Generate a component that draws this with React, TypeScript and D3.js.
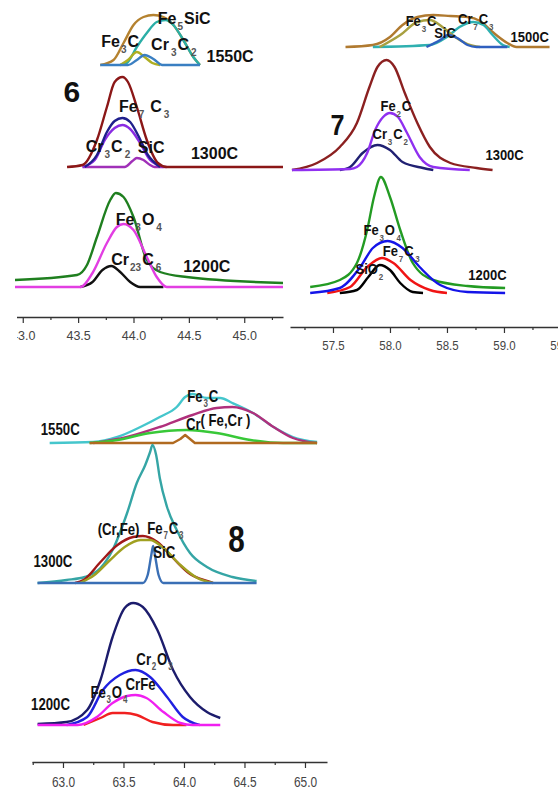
import React, { useEffect, useRef } from "react";
import * as d3 from "d3";

type Pt = [number, number];
type Part = [string, number, number?];
type Lab = { x: number; y: number; t: Part[]; big?: boolean };

// ---------- panel 6 (43–45 deg) ----------
const p6Ticks = [43.0, 43.5, 44.0, 44.5, 45.0];
const p6Minor = [43.25, 43.75, 44.25, 44.75, 45.25];
const p6Levels = [30, 150, 252]; // 1200C, 1300C, 1550C baselines

const p6_1200_green: Pt[] = [[42.93, 7], [43.49, 12], [43.58, 22], [43.67, 50], [43.79, 87], [43.84, 94], [43.91, 90], [44.0, 70], [44.12, 27], [44.24, 15], [44.48, 10], [45.35, 4]];
const p6_1200_black: Pt[] = [[43.52, 0], [43.63, 5], [43.72, 17], [43.8, 21], [43.88, 15], [43.97, 5], [44.06, 0], [44.27, 0]];
const p6_1200_magenta: Pt[] = [[42.93, 0], [43.52, 0], [43.63, 14], [43.76, 44], [43.85, 60], [43.91, 63], [44.0, 57], [44.12, 30], [44.21, 10], [44.3, 0], [45.35, 0]];

const p6_1300_sic: Pt[] = [[43.54, 0], [43.92, 0], [43.99, 6], [44.03, 9], [44.09, 7], [44.15, 2], [44.19, 0], [44.3, 0]];
const p6_1300_violet: Pt[] = [[43.54, 0], [43.65, 7], [43.74, 27], [43.83, 39], [43.9, 42], [43.97, 38], [44.06, 24], [44.15, 7], [44.27, 0]];
const p6_1300_navy: Pt[] = [[43.56, 0], [43.67, 12], [43.76, 35], [43.83, 46], [43.9, 49], [43.97, 45], [44.04, 32], [44.13, 12], [44.24, 0]];
const p6_1300_red: Pt[] = [[43.4, 0], [43.54, 2], [43.67, 27], [43.76, 60], [43.83, 85], [43.9, 90], [43.95, 85], [44.03, 60], [44.12, 27], [44.22, 4], [44.3, 0], [45.35, 0]];

const p6_1550_brown: Pt[] = [[43.7, 0], [43.82, 5], [43.91, 22], [44.0, 40], [44.09, 48], [44.18, 50], [44.27, 48], [44.36, 40], [44.45, 25], [44.54, 8], [44.6, 0]];
const p6_1550_teal: Pt[] = [[43.88, 0], [43.94, 2], [44.03, 18], [44.12, 32], [44.21, 43], [44.29, 45], [44.36, 40], [44.45, 25], [44.54, 8], [44.6, 0]];
const p6_1550_olive: Pt[] = [[43.88, 0], [43.95, 5], [44.03, 13], [44.1, 8], [44.17, 2], [44.24, 0]];
const p6_1550_blue: Pt[] = [[43.7, 0], [43.95, 0], [44.03, 5], [44.1, 10], [44.18, 6], [44.26, 0], [44.6, 0]];

const p6Labels: Lab[] = [
  { x: 44.21, y: 293, t: [["Fe", 0], ["5", 1], ["SiC", 0]] },
  { x: 43.7, y: 270, t: [["Fe", 0], ["3", 1], ["C", 0]] },
  { x: 44.15, y: 267, t: [["Cr", 0], ["3", 1, 2], ["C", 0], ["2", 1, 2]] },
  { x: 44.65, y: 255, t: [["1550C", 0]] },
  { x: 43.36, y: 215, t: [["6", 0]], big: true },
  { x: 43.86, y: 205, t: [["Fe", 0], ["7", 1, 1], ["C", 0, 6], ["3", 1, 2]] },
  { x: 43.56, y: 165, t: [["Cr", 0], ["3", 1], ["C", 0], ["2", 1, 2]] },
  { x: 44.03, y: 164, t: [["SiC", 0]] },
  { x: 44.51, y: 158, t: [["1300C", 0]] },
  { x: 43.83, y: 92, t: [["Fe", 0], ["3", 1], ["O", 0], ["4", 1, 2]] },
  { x: 43.79, y: 52, t: [["Cr", 0], ["23", 1], ["C", 0, 1], ["6", 1, 2]] },
  { x: 44.44, y: 45, t: [["1200C", 0]] },
];

// ---------- panel 7 (57.5–59 deg) ----------
const p7Ticks = [57.5, 58.0, 58.5, 59.0, 59.5];
const p7Minor = [57.25, 57.75, 58.25, 58.75, 59.25];
const p7Levels = [34, 157, 280]; // 1200C, 1300C, 1500C

const p7_1200_green: Pt[] = [[57.3, 6], [57.56, 13], [57.71, 30], [57.8, 63], [57.86, 96], [57.92, 116], [58.0, 96], [58.09, 63], [58.2, 30], [58.38, 13], [58.68, 7], [59.01, 5]];
const p7_1200_black: Pt[] = [[57.56, 0], [57.71, 3], [57.81, 16], [57.91, 28], [58.0, 23], [58.09, 10], [58.2, 1], [58.29, 0]];
const p7_1200_red: Pt[] = [[57.45, 0], [57.65, 6], [57.8, 26], [57.93, 35], [58.03, 30], [58.18, 13], [58.35, 3], [58.5, 0]];
const p7_1200_blue: Pt[] = [[57.3, 0], [57.56, 5], [57.74, 26], [57.85, 45], [57.98, 52], [58.11, 45], [58.26, 26], [58.44, 8], [58.68, 1], [59.01, 0]];

const p7_1300_red: Pt[] = [[57.14, 0], [57.36, 7], [57.56, 23], [57.71, 47], [57.82, 83], [57.89, 103], [57.97, 110], [58.04, 103], [58.13, 77], [58.24, 47], [58.35, 23], [58.53, 7], [58.76, 2], [58.9, 0]];
const p7_1300_navy: Pt[] = [[57.56, 0], [57.65, 3], [57.76, 17], [57.89, 25], [58.0, 20], [58.11, 8], [58.29, 2], [58.38, 0]];
const p7_1300_violet: Pt[] = [[57.14, 0], [57.65, 1], [57.71, 3], [57.8, 17], [57.87, 40], [57.94, 53], [58.0, 57], [58.07, 53], [58.15, 37], [58.26, 13], [58.38, 3], [58.7, 0]];

const p7_1500_brown: Pt[] = [[57.61, 0], [57.85, 2], [58.0, 10], [58.11, 22], [58.24, 30], [58.38, 32], [58.53, 31], [58.68, 30], [58.79, 26], [58.9, 15], [59.03, 4], [59.11, 0], [59.4, 0]];
const p7_1500_teal: Pt[] = [[57.85, 0], [58.35, 2], [58.5, 10], [58.61, 20], [58.73, 25], [58.82, 22], [58.9, 12], [58.99, 2], [59.05, 0]];
const p7_1500_olive: Pt[] = [[57.91, 0], [58.09, 12], [58.24, 25], [58.35, 27], [58.46, 20], [58.57, 10], [58.68, 3], [58.79, 0]];
const p7_1500_blue: Pt[] = [[58.32, 0], [58.44, 7], [58.51, 12], [58.59, 9], [58.68, 2], [58.76, 0], [59.03, 0]];

const p7Labels: Lab[] = [
  { x: 58.13, y: 301, t: [["Fe", 0], ["3", 1], ["C", 0]] },
  { x: 58.38, y: 289, t: [["SiC", 0]] },
  { x: 58.59, y: 303, t: [["Cr", 0], ["7", 1], ["C", 0], ["3", 1]] },
  { x: 59.05, y: 285, t: [["1500C", 0]] },
  { x: 57.47, y: 192, t: [["7", 0]], big: true },
  { x: 57.91, y: 216, t: [["Fe", 0], ["2", 1], ["C", 0]] },
  { x: 57.84, y: 188, t: [["Cr", 0], ["3", 1], ["C", 0], ["2", 1]] },
  { x: 58.83, y: 167, t: [["1300C", 0]] },
  { x: 57.76, y: 92, t: [["Fe", 0], ["3", 1], ["O", 0], ["4", 1, 2]] },
  { x: 57.93, y: 71, t: [["Fe", 0], ["7", 1], ["C", 0], ["3", 1, 2]] },
  { x: 57.69, y: 53, t: [["SiO", 0], ["2", 1]] },
  { x: 58.68, y: 47, t: [["1200C", 0]] },
];

// ---------- panel 8 (63–65 deg) ----------
const p8Ticks = [63.0, 63.5, 64.0, 64.5, 65.0];
const p8Minor = [62.75, 63.25, 63.75, 64.25, 64.75];
const p8Levels = [37, 179, 319]; // 1200C, 1300C, 1550C

const p8_1200_navy: Pt[] = [[62.79, 1], [63.03, 3], [63.2, 15], [63.31, 45], [63.41, 88], [63.51, 117], [63.58, 122], [63.66, 118], [63.78, 95], [63.91, 55], [64.05, 28], [64.19, 13], [64.3, 7]];
const p8_1200_blue: Pt[] = [[63.03, 0], [63.2, 8], [63.33, 35], [63.47, 50], [63.6, 55], [63.72, 48], [63.86, 28], [63.99, 8], [64.13, 0]];
const p8_1200_red: Pt[] = [[63.17, 0], [63.31, 7], [63.41, 12], [63.51, 12], [63.61, 10], [63.74, 3], [63.91, 0], [64.02, 0]];
const p8_1200_magenta: Pt[] = [[62.79, 0], [63.12, 0], [63.28, 8], [63.41, 22], [63.53, 29], [63.6, 30], [63.69, 27], [63.83, 13], [63.97, 2], [64.07, 0], [64.3, 0]];

const p8_1300_teal: Pt[] = [[62.79, 0], [63.03, 3], [63.18, 6], [63.31, 15], [63.41, 33], [63.53, 70], [63.61, 100], [63.68, 118], [63.72, 131], [63.74, 138], [63.77, 128], [63.8, 105], [63.86, 76], [63.94, 53], [64.05, 30], [64.19, 16], [64.4, 6], [64.6, 2]];
const p8_1300_red: Pt[] = [[63.1, 0], [63.17, 3], [63.31, 21], [63.45, 38], [63.58, 46], [63.66, 47], [63.78, 41], [63.91, 25], [64.05, 9], [64.19, 2], [64.24, 0]];
const p8_1300_olive: Pt[] = [[63.14, 0], [63.26, 8], [63.39, 23], [63.51, 36], [63.64, 43], [63.72, 43], [63.83, 35], [63.97, 18], [64.11, 5], [64.24, 0]];
const p8_1300_sic: Pt[] = [[62.79, 0], [63.66, 0], [63.7, 8], [63.73, 28], [63.745, 37], [63.76, 28], [63.79, 8], [63.83, 0], [64.6, 0]];

const p8_1550_cyan: Pt[] = [[62.89, 0], [63.25, 1], [63.45, 6], [63.64, 16], [63.8, 26], [63.94, 36], [64.01, 46], [64.07, 49], [64.19, 45], [64.3, 45], [64.4, 40], [64.57, 30], [64.74, 16], [64.9, 6], [65.1, 1]];
const p8_1550_magenta: Pt[] = [[63.25, 0], [63.53, 6], [63.8, 16], [64.07, 28], [64.27, 35], [64.4, 36], [64.57, 30], [64.74, 16], [64.9, 5], [65.1, 0]];
const p8_1550_green: Pt[] = [[63.22, 0], [63.45, 3], [63.72, 10], [64.02, 13], [64.27, 10], [64.55, 3], [64.82, 0], [65.1, 0]];
const p8_1550_brown: Pt[] = [[63.22, 0], [63.91, 0], [63.97, 4], [64.01, 8], [64.05, 4], [64.09, 0], [65.1, 0]];

const p8Labels: Lab[] = [
  { x: 64.02, y: 360, t: [["Fe", 0], ["3", 1], ["C", 0]] },
  { x: 64.01, y: 332, t: [["Cr", 0]] },
  { x: 64.13, y: 336, t: [["( Fe,Cr )", 0]] },
  { x: 62.81, y: 327, t: [["1550C", 0]] },
  { x: 63.28, y: 227, t: [["(Cr,Fe)", 0]] },
  { x: 63.69, y: 228, t: [["Fe", 0], ["7", 1], ["C", 0], ["3", 1]] },
  { x: 63.74, y: 204, t: [["SiC", 0]] },
  { x: 64.36, y: 210, t: [["8", 0]], big: true },
  { x: 62.75, y: 195, t: [["1300C", 0]] },
  { x: 63.6, y: 97, t: [["Cr", 0], ["2", 1], ["O", 0], ["3", 1, 1]] },
  { x: 63.51, y: 72, t: [["CrFe", 0]] },
  { x: 63.22, y: 64, t: [["Fe", 0], ["3", 1], ["O", 0], ["4", 1]] },
  { x: 62.73, y: 52, t: [["1200C", 0]] },
];

const sans = "'Liberation Sans', Arial, sans-serif";

const panels = [
  {
    domain: [42.93, 45.35], range: [15, 283], axisY: 317, clipX: 17,
    ticks: p6Ticks, minor: p6Minor, levels: p6Levels,
    tickSize: 12.5, tickPad: 8, tickSx: 1,
    sx: 1, size: 16, big: 30, sub: 10, subDy: 6,
    curves: [
      { d: p6_1550_brown, l: 2, c: "#b5822f" },
      { d: p6_1550_teal, l: 2, c: "#2aaea6" },
      { d: p6_1550_olive, l: 2, c: "#aeae22" },
      { d: p6_1550_blue, l: 2, c: "#3a7fc2" },
      { d: p6_1300_sic, l: 1, c: "#a030b8" },
      { d: p6_1300_violet, l: 1, c: "#8a2be2" },
      { d: p6_1300_navy, l: 1, c: "#1f1f8c" },
      { d: p6_1300_red, l: 1, c: "#8b1717" },
      { d: p6_1200_green, l: 0, c: "#1f7f1f" },
      { d: p6_1200_black, l: 0, c: "#111111" },
      { d: p6_1200_magenta, l: 0, c: "#e23ee2" },
    ],
    labels: p6Labels,
  },
  {
    domain: [57.123, 59.474], range: [290, 558], axisY: 327, clipX: 0,
    ticks: p7Ticks, minor: p7Minor, levels: p7Levels,
    tickSize: 13.5, tickPad: 7, tickSx: 0.85,
    sx: 0.84, size: 15.5, big: 30, sub: 9.5, subDy: 6,
    curves: [
      { d: p7_1500_brown, l: 2, c: "#b07a30" },
      { d: p7_1500_teal, l: 2, c: "#2fb0b0" },
      { d: p7_1500_olive, l: 2, c: "#a8a040" },
      { d: p7_1500_blue, l: 2, c: "#2f5fbf" },
      { d: p7_1300_red, l: 1, c: "#8b2020" },
      { d: p7_1300_navy, l: 1, c: "#202072" },
      { d: p7_1300_violet, l: 1, c: "#9030f0" },
      { d: p7_1200_green, l: 0, c: "#239b23" },
      { d: p7_1200_black, l: 0, c: "#000000" },
      { d: p7_1200_red, l: 0, c: "#f01414" },
      { d: p7_1200_blue, l: 0, c: "#1414e8" },
    ],
    labels: p7Labels,
  },
  {
    domain: [62.744, 65.182], range: [32, 327], axisY: 762, clipX: 0,
    ticks: p8Ticks, minor: p8Minor, levels: p8Levels,
    tickSize: 14, tickPad: 9, tickSx: 0.85,
    sx: 0.8, size: 16.5, big: 37, sub: 10, subDy: 5,
    curves: [
      { d: p8_1550_cyan, l: 2, c: "#45c6cc" },
      { d: p8_1550_magenta, l: 2, c: "#b0307c" },
      { d: p8_1550_green, l: 2, c: "#38c838" },
      { d: p8_1550_brown, l: 2, c: "#b06a20", lin: true },
      { d: p8_1300_teal, l: 1, c: "#35a5a5" },
      { d: p8_1300_red, l: 1, c: "#a01818" },
      { d: p8_1300_olive, l: 1, c: "#a0a020" },
      { d: p8_1300_sic, l: 1, c: "#3a6fb5" },
      { d: p8_1200_navy, l: 0, c: "#1c1c6c" },
      { d: p8_1200_blue, l: 0, c: "#2020e0" },
      { d: p8_1200_red, l: 0, c: "#f02020" },
      { d: p8_1200_magenta, l: 0, c: "#f020f0" },
    ],
    labels: p8Labels,
  },
];

function drawPanel(svg: any, p: any, i: number) {
  const x = d3.scaleLinear().domain(p.domain).range(p.range);
  const y = d3.scaleLinear().domain([0, p.axisY]).range([p.axisY, 0]);
  const g = svg.append("g");

  const smooth = d3.line<Pt>().x(d => x(d[0])).y(d => y(d[1])).curve(d3.curveMonotoneX);
  const straight = d3.line<Pt>().x(d => x(d[0])).y(d => y(d[1]));

  p.curves.forEach((c: any) => {
    const pts: Pt[] = c.d.map((d: Pt) => [d[0], d[1] + p.levels[c.l]]);
    g.append("path")
      .attr("d", (c.lin ? straight : smooth)(pts))
      .attr("fill", "none")
      .attr("stroke", c.c)
      .attr("stroke-width", 2.4)
      .attr("stroke-linejoin", "round");
  });

  // axis
  const ax = g.append("g").attr("transform", "translate(0," + p.axisY + ")");
  if (p.clipX) {
    svg.append("clipPath").attr("id", "clip" + i)
      .append("rect").attr("x", p.clipX).attr("y", -10).attr("width", 400).attr("height", 50);
    ax.attr("clip-path", "url(#clip" + i + ")");
  }
  ax.call(d3.axisBottom(x).tickValues(p.ticks).tickSize(6).tickSizeOuter(0)
    .tickPadding(p.tickPad).tickFormat(d3.format(".1f")));
  ax.select(".domain").attr("stroke", "#333").attr("stroke-width", 1.3);
  ax.selectAll(".tick line").attr("stroke", "#333").attr("stroke-width", 1.2);
  ax.selectAll(".tick text").attr("font-family", sans).attr("font-size", p.tickSize)
    .attr("fill", "#444").attr("transform", "scale(" + p.tickSx + ",1)");
  const mn = g.append("g").attr("transform", "translate(0," + p.axisY + ")")
    .call(d3.axisBottom(x).tickValues(p.minor).tickSize(3).tickFormat(() => ""));
  mn.select(".domain").remove();
  mn.selectAll(".tick line").attr("stroke", "#333").attr("stroke-width", 1.2);

  // labels (panels 7 and 8 use a condensed face, done by horizontal scaling)
  p.labels.forEach((lab: Lab) => {
    const t = g.append("text")
      .attr("transform", "translate(" + x(lab.x) + "," + y(lab.y) + ") scale(" + p.sx + ",1)")
      .attr("font-family", sans).attr("font-weight", "bold")
      .attr("font-size", lab.big ? p.big : p.size).attr("fill", "#111");
    let down = false;
    lab.t.forEach(([s, sub, dx]) => {
      const ts = t.append("tspan").text(s);
      if (sub) {
        ts.attr("font-size", p.sub).attr("fill", "#555").attr("dx", dx || 1);
        if (!down) ts.attr("dy", p.subDy);
        down = true;
      } else {
        if (down) ts.attr("dy", -p.subDy);
        ts.attr("dx", dx || 1);
        down = false;
      }
    });
  });
}

export default function App() {
  const ref = useRef<SVGSVGElement>(null);

  useEffect(() => {
    const svg = d3.select(ref.current);
    svg.selectAll("*").remove();
    svg.append("rect").attr("width", 558).attr("height", 791).attr("fill", "#fff");
    panels.forEach((p, i) => drawPanel(svg, p, i));
  }, []);

  return <svg ref={ref} width={558} height={791} style={{ position: "absolute", left: 0, top: 0 }} />;
}
